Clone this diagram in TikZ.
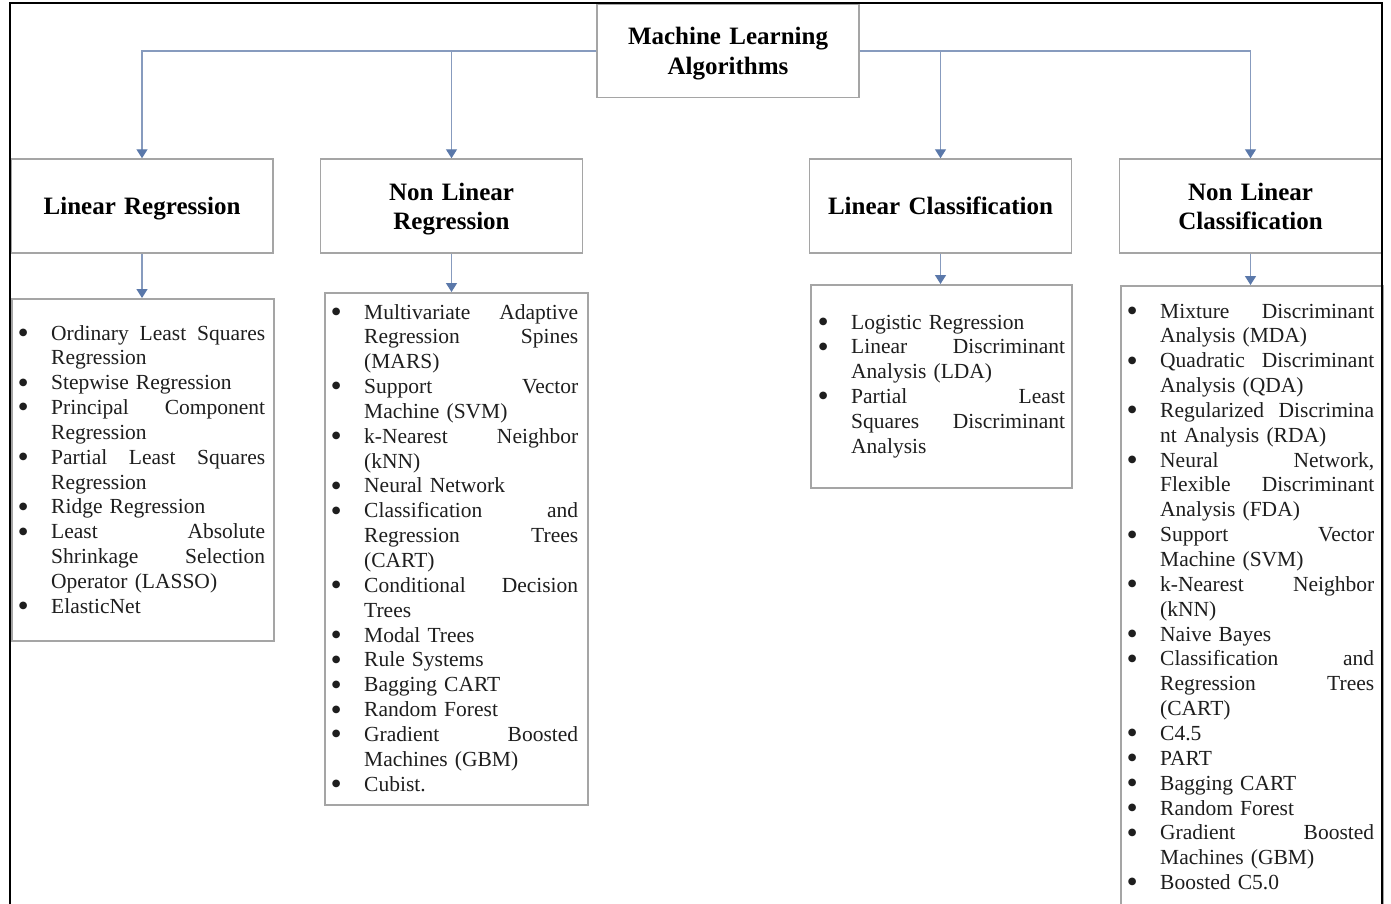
\documentclass[tikz,border=0pt]{standalone}
\usepackage{fontspec}
\setmainfont{Liberation Serif}
\newfontfamily\bulfont{DejaVu Sans}
\usetikzlibrary{arrows.meta}
\definecolor{boxgray}{RGB}{165,165,165}
\definecolor{arrowline}{RGB}{135,155,190}
\definecolor{arrowhead}{RGB}{90,120,170}
\definecolor{txt}{RGB}{30,30,30}
\newcommand{\bigbul}{\raisebox{4.6pt}{\bulfont\fontsize{10}{10}\selectfont ●}}
\newcommand{\bfirst}{\noindent\llap{\bigbul\hspace{23.5pt}}}
\newcommand{\bi}{\par\noindent\llap{\bigbul\hspace{23.5pt}}}
\tikzset{
  catbox/.style={draw=boxgray, line width=1.5pt, minimum width=262pt, minimum height=94pt, inner sep=0pt},
  cattext/.style={text width=262pt, inner sep=0pt, anchor=base, align=center,
    font=\fontsize{25}{29}\selectfont\bfseries, text=black},
  listbox/.style={draw=boxgray, line width=1.5pt, inner sep=0pt, anchor=north west},
  listtext/.style={text width=214pt, inner sep=0pt, anchor=base west, align=left,
    font=\fontsize{21.5}{24.85}\selectfont, text=txt},
  conn/.style={draw=arrowline, line width=1.4pt, -{Triangle[width=11pt,length=9pt,color=arrowhead]}}
}
\begin{document}
\begin{tikzpicture}[x=1pt,y=-1pt]
\clip (0,0) rectangle (1391,903);
\fill[white] (0,0) rectangle (1391,903);

\node[catbox, minimum height=93pt] (ml) at (728,51) {};
\node[catbox] (lr) at (142,206) {};
\node[catbox] (nlr) at (451.5,206) {};
\node[catbox] (lc) at (940.5,206) {};
\node[catbox] (nlc) at (1250.5,206) {};

\node[cattext, font=\fontsize{25}{30}\selectfont\bfseries] (mlt) at (728,44.6) {Machine Learning\\Algorithms};
\node[cattext] (lrt) at (142,214.6) {Linear Regression};
\node[cattext] (nlrt) at (451.5,200.6) {Non Linear\\Regression};
\node[cattext] (lct) at (940.5,214.6) {Linear Classification};
\node[cattext] (nlct) at (1250.5,200.6) {Non Linear\\Classification};

\node[listbox, minimum width=262pt, minimum height=342pt] (lrbox) at (11,298) {};
\node[listbox, minimum width=263pt, minimum height=512pt] (nlrbox) at (324,292) {};
\node[listbox, minimum width=261pt, minimum height=203pt] (lcbox) at (810,284) {};
\node[listbox, minimum width=262pt, minimum height=645pt] (nlcbox) at (1120,285) {};

\node[listtext] (lrlist) at (51,340) {%
\bfirst Ordinary\hfill Least\hfill Squares\\ Regression
\bi Stepwise Regression
\bi Principal\hfill Component\\ Regression
\bi Partial\hfill Least\hfill Squares\\ Regression
\bi Ridge Regression
\bi Least\hfill Absolute\\ Shrinkage\hfill Selection\\ Operator (LASSO)
\bi ElasticNet};

\node[listtext] (nlrlist) at (364,319) {%
\bfirst Multivariate\hfill Adaptive\\ Regression\hfill Spines\\ (MARS)
\bi Support\hfill Vector\\ Machine (SVM)
\bi k-Nearest\hfill Neighbor\\ (kNN)
\bi Neural Network
\bi Classification\hfill and\\ Regression\hfill Trees\\ (CART)
\bi Conditional\hfill Decision\\ Trees
\bi Modal Trees
\bi Rule Systems
\bi Bagging CART
\bi Random Forest
\bi Gradient\hfill Boosted\\ Machines (GBM)
\bi Cubist.};

\node[listtext] (lclist) at (851,329) {%
\bfirst Logistic Regression
\bi Linear\hfill Discriminant\\ Analysis (LDA)
\bi Partial\hfill Least\\ Squares\hfill Discriminant\\ Analysis};

\node[listtext] (nlclist) at (1160,318) {%
\bfirst Mixture\hfill Discriminant\\ Analysis (MDA)
\bi Quadratic\hfill Discriminant\\ Analysis (QDA)
\bi Regularized\hfill Discrimina\\ nt Analysis (RDA)
\bi Neural\hfill Network,\\ Flexible\hfill Discriminant\\ Analysis (FDA)
\bi Support\hfill Vector\\ Machine (SVM)
\bi k-Nearest\hfill Neighbor\\ (kNN)
\bi Naive Bayes
\bi Classification\hfill and\\ Regression\hfill Trees\\ (CART)
\bi C4.5
\bi PART
\bi Bagging CART
\bi Random Forest
\bi Gradient\hfill Boosted\\ Machines (GBM)
\bi Boosted C5.0};

\draw[conn] (ml.west) -| (lr.north);
\draw[conn] (ml.west) -| (nlr.north);
\draw[conn] (ml.east) -| (lc.north);
\draw[conn] (ml.east) -| (nlc.north);
\draw[conn] (lr.south) -- (lr.south |- lrbox.north);
\draw[conn] (nlr.south) -- (nlr.south |- nlrbox.north);
\draw[conn] (lc.south) -- (lc.south |- lcbox.north);
\draw[conn] (nlc.south) -- (nlc.south |- nlcbox.north);

\draw[line width=2pt, black] (10,930) -- (10,3) -- (1382,3) -- (1382,930);
\end{tikzpicture}
\end{document}
